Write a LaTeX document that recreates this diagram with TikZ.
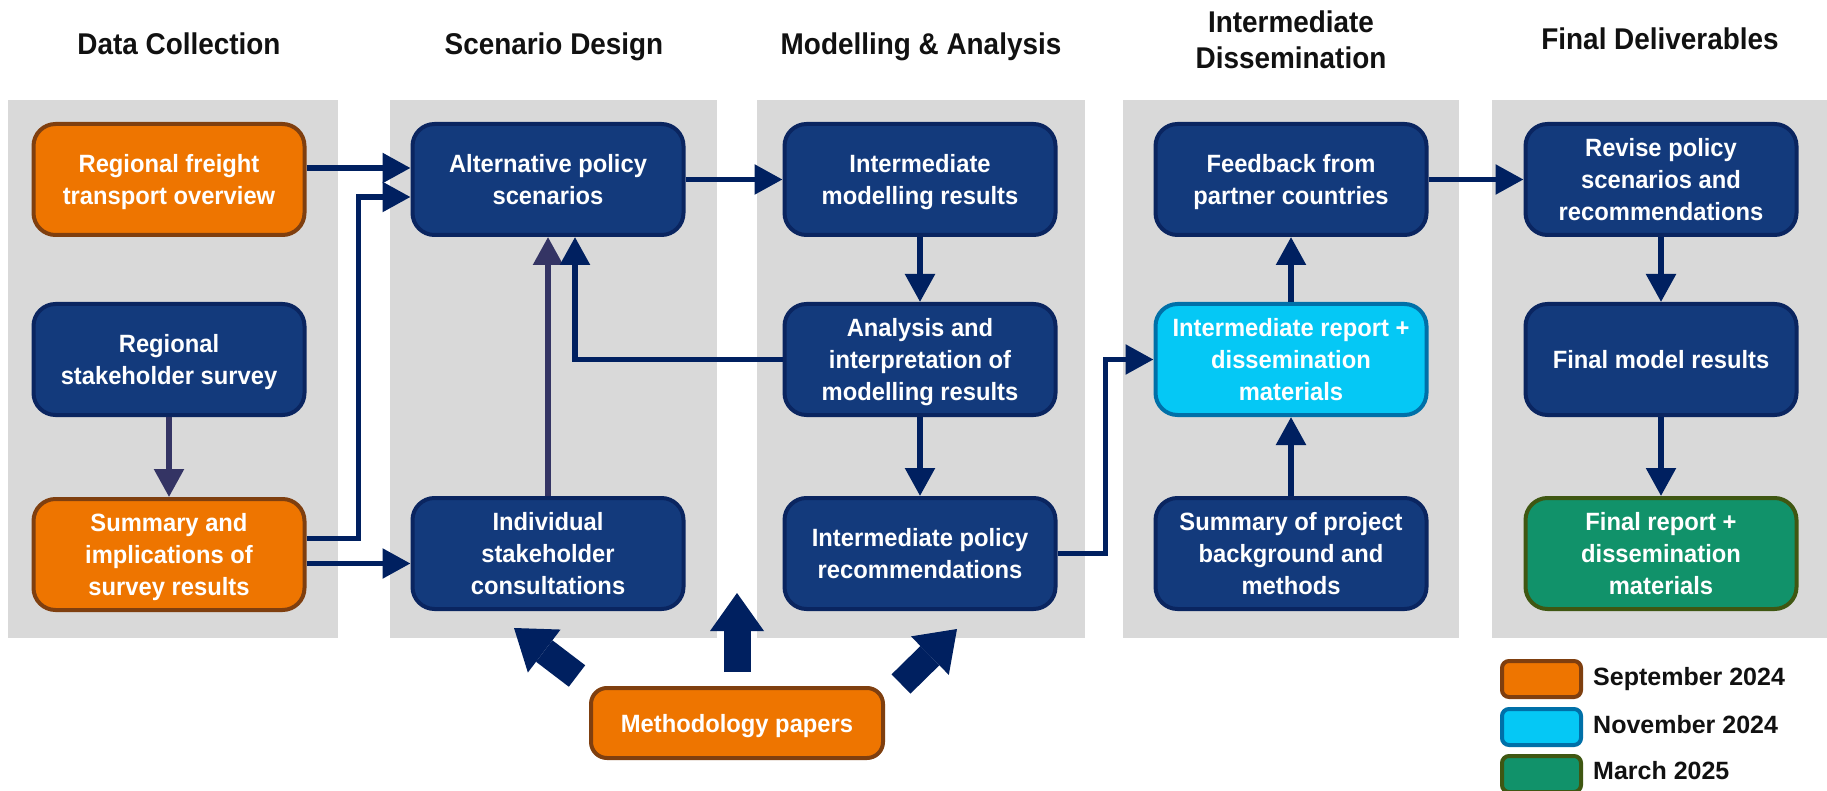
\documentclass[tikz,border=0pt]{standalone}
\usepackage{fontspec}
\setmainfont{Liberation Sans}
\newfontfamily\boxfont[FakeStretch=0.95]{Liberation Sans}
\newfontfamily\titlefont[FakeStretch=0.93]{Liberation Sans}
\usetikzlibrary{arrows.meta}

\definecolor{panelgray}{RGB}{217,217,217}
\definecolor{navyfill}{RGB}{19,58,124}
\definecolor{navyline}{RGB}{10,37,96}
\definecolor{orangefill}{RGB}{238,117,0}
\definecolor{orangeline}{RGB}{127,63,15}
\definecolor{cyanfill}{RGB}{5,200,245}
\definecolor{cyanline}{RGB}{0,112,168}
\definecolor{greenfill}{RGB}{17,146,106}
\definecolor{greenline}{RGB}{63,87,18}
\definecolor{arrownavy}{RGB}{0,32,96}
\definecolor{arrowgray}{RGB}{52,52,100}
\definecolor{titleblack}{RGB}{17,17,17}

\begin{document}
\begin{tikzpicture}[x=1pt, y=-1pt,
	box/.style={draw=navyline, fill=navyfill, line width=4pt, rounded corners=22pt, minimum width=271pt, minimum height=111pt, inner sep=0pt, text depth=0pt, align=center, text=white, font=\boxfont\bfseries\fontsize{25}{32}\selectfont},
	orangebox/.style={box, draw=orangeline, fill=orangefill},
	cyanbox/.style={box, draw=cyanline, fill=cyanfill},
	greenbox/.style={box, draw=greenline, fill=greenfill},
	panel/.style={fill=panelgray},
	title/.style={font=\titlefont\bfseries\fontsize{30}{36}\selectfont, text=titleblack, align=center, inner sep=0pt},
	flow/.style={draw=arrownavy, line width=5.5pt, -{Triangle[length=28pt,width=29pt]}},
	feed/.style={flow, draw=arrowgray},
	bigarrow/.style={draw=arrownavy, line width=27pt, -{Triangle[length=38pt,width=54pt,line width=0pt]}},
	swatch/.style={line width=4pt, rounded corners=7pt, minimum width=79pt, minimum height=36pt, inner sep=0pt},
	legtext/.style={anchor=base west, font=\bfseries\fontsize{25}{30}\selectfont, text=titleblack, inner sep=0pt}]
	\useasboundingbox (0,0) rectangle (1827,791);
	\fill[white] (0,0) rectangle (1827,791);
	% columns
	\fill[panel] (8,100) rectangle (338,638);
	\fill[panel] (390,100) rectangle (717,638);
	\fill[panel] (757,100) rectangle (1085,638);
	\fill[panel] (1123,100) rectangle (1459,638);
	\fill[panel] (1492,100) rectangle (1827,638);
	\node[title, anchor=base] (tdata) at (179,55) {Data Collection};
	\node[title, anchor=base] (tscen) at (554,55) {Scenario Design};
	\node[title, anchor=base] (tmodel) at (921,55) {Modelling \& Analysis};
	\node[title, text depth=0pt] (tdiss) at (1291,40) {Intermediate\\Dissemination};
	\node[title, anchor=base] (tfinal) at (1660,50) {Final Deliverables};
	% boxes
	\node[orangebox] (freight) at (169,179.5) {Regional freight\\transport overview};
	\node[box] (survey) at (169,359.5) {Regional\\stakeholder survey};
	\node[orangebox] (summary) at (169,554.5) {Summary and\\implications of\\survey results};
	\node[box] (altpol) at (548,179.5) {Alternative policy\\scenarios};
	\node[box] (consult) at (548,553.5) {Individual\\stakeholder\\consultations};
	\node[box] (modres) at (920,179.5) {Intermediate\\modelling results};
	\node[box] (analysis) at (920,359.5) {Analysis and\\interpretation of\\modelling results};
	\node[box] (polrec) at (920,553.5) {Intermediate policy\\recommendations};
	\node[box] (feedback) at (1291,179.5) {Feedback from\\partner countries};
	\node[cyanbox] (interrep) at (1291,359.5) {Intermediate report +\\dissemination\\materials};
	\node[box] (background) at (1291,553.5) {Summary of project\\background and\\methods};
	\node[box] (revise) at (1661,179.5) {Revise policy\\scenarios and\\recommendations};
	\node[box] (finalmod) at (1661,359.5) {Final model results};
	\node[greenbox] (finalrep) at (1661,553.5) {Final report +\\dissemination\\materials};
	\node[orangebox, rounded corners=16pt, minimum width=292pt, minimum height=70pt] (methpapers) at (737,723) {Methodology papers};
	% connectors
	\draw[flow] ([yshift=11.5pt]freight.east) -- ([yshift=11.5pt]altpol.west);
	\draw[flow] ([yshift=16pt]summary.east) -- ++(52,0) |- ([yshift=-17.5pt]altpol.west);
	\draw[flow] ([yshift=-9pt]summary.east) -- ([yshift=-10pt]consult.west);
	\draw[feed] (survey.south) -- (summary.north);
	\draw[feed] (consult.north) -- (altpol.south);
	\draw[flow] (analysis.west) -| ([xshift=27pt]altpol.south);
	\draw[flow] (altpol.east) -- (modres.west);
	\draw[flow] (modres.south) -- (analysis.north);
	\draw[flow] (analysis.south) -- (polrec.north);
	\draw[flow] (polrec.east) -- ++(48,0) |- (interrep.west);
	\draw[flow] (interrep.north) -- (feedback.south);
	\draw[flow] (background.north) -- (interrep.south);
	\draw[flow] (feedback.east) -- (revise.west);
	\draw[flow] (revise.south) -- (finalmod.north);
	\draw[flow] (finalmod.south) -- (finalrep.north);
	% methodology arrows
	\coordinate (tipleft) at (514,628);
	\coordinate (tipmid) at (737,593);
	\coordinate (tipright) at (957,629);
	\draw[bigarrow] ([shift={(-12,-10)}]methpapers.north west) -- (tipleft);
	\draw[bigarrow] ([yshift=14pt]methpapers.north) -- (tipmid);
	\draw[bigarrow] ([shift={(16,-2)}]methpapers.north east) -- (tipright);
	% legend
	\node[swatch, fill=orangefill, draw=orangeline] (legsep) at (1541.5,679) {};
	\node[legtext] (legseptext) at (1593,685) {September 2024};
	\node[swatch, fill=cyanfill, draw=cyanline] (legnov) at (1541.5,727) {};
	\node[legtext] (legnovtext) at (1593,733) {November 2024};
	\node[swatch, fill=greenfill, draw=greenline] (legmar) at (1541.5,774) {};
	\node[legtext] (legmartext) at (1593,779) {March 2025};
\end{tikzpicture}
\end{document}
